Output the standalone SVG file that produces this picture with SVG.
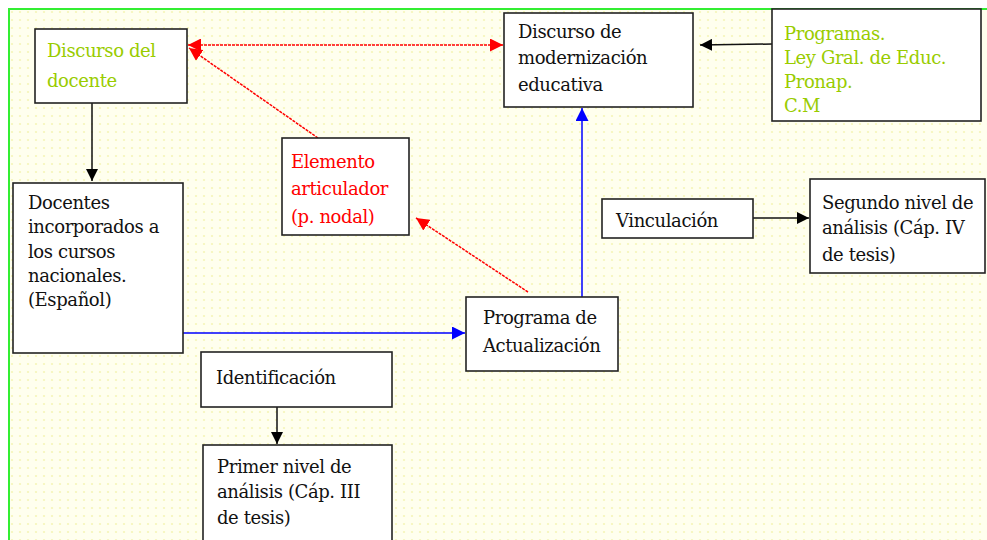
<svg xmlns="http://www.w3.org/2000/svg" width="987" height="540" viewBox="0 0 987 540">
<defs>
<pattern id="dots" width="8" height="8" patternUnits="userSpaceOnUse">
<rect width="8" height="8" fill="#ffffee"/>
<circle cx="4" cy="4" r="1.1" fill="#f6f6b8"/>
</pattern>
<marker id="ak" viewBox="0 0 10 10" refX="10" refY="5" markerWidth="12" markerHeight="12" markerUnits="userSpaceOnUse" orient="auto-start-reverse"><path d="M0,0 L10,5 L0,10 z" fill="#000"/></marker>
<marker id="ar" viewBox="0 0 10 10" refX="10" refY="5" markerWidth="13" markerHeight="13" markerUnits="userSpaceOnUse" orient="auto-start-reverse"><path d="M0,0 L10,5 L0,10 z" fill="#ff0000"/></marker>
<marker id="ab" viewBox="0 0 10 10" refX="10" refY="5" markerWidth="13" markerHeight="13" markerUnits="userSpaceOnUse" orient="auto-start-reverse"><path d="M0,0 L10,5 L0,10 z" fill="#0000ff"/></marker>
</defs>
<style>
.box{fill:#ffffff;stroke:#222;stroke-width:1.6}
.t text{font-family:"DejaVu Serif",serif;font-size:18px;letter-spacing:-0.4px;fill:#111}
.t text.g{fill:#99cc00}
.t text.r{fill:#ff0000}
.ck{stroke:#111;stroke-width:1.5;fill:none;marker-end:url(#ak)}
.cr{stroke:#ff0000;stroke-width:1.5;fill:none;stroke-dasharray:3 1;marker-end:url(#ar)}
.cb{stroke:#0000ff;stroke-width:1.5;fill:none;marker-end:url(#ab)}
</style>
<rect width="987" height="540" fill="#ffffff"/>
<rect x="9" y="9" width="978" height="531" fill="url(#dots)"/>
<path d="M9,540 L9,9 L987,9" fill="none" stroke="#33ee33" stroke-width="2"/>

<g id="connectors">
<path class="ck" d="M92,103 L92,181"/>
<path class="cr" d="M188,45 L503,45" marker-start="url(#ar)"/>
<path class="cr" d="M318,138 L189,48"/>
<path class="cr" d="M528,292 L416,218"/>
<path class="cb" d="M183,333 L465,333"/>
<path class="cb" d="M582,297 L582,108"/>
<path class="ck" d="M772,44 L700,45"/>
<path class="ck" d="M753,218 L809,218"/>
<path class="ck" d="M277,407 L277,444"/>
</g>

<g class="t">
<g id="discurso-docente">
<rect class="box" x="35" y="29" width="152" height="74"/>
<text class="g" x="47" y="57">Discurso del</text>
<text class="g" x="47" y="87">docente</text>
</g>

<g id="discurso-modernizacion">
<rect class="box" x="504" y="13" width="189" height="94"/>
<text x="518" y="38">Discurso de</text>
<text x="518" y="64">modernización</text>
<text x="518" y="91">educativa</text>
</g>

<g id="programas">
<rect class="box" x="772" y="9" width="209" height="112"/>
<text class="g" x="784" y="40">Programas.</text>
<text class="g" x="784" y="64">Ley Gral. de Educ.</text>
<text class="g" x="784" y="88">Pronap.</text>
<text class="g" x="784" y="112">C.M</text>
</g>

<g id="elemento">
<rect class="box" x="282" y="138" width="127" height="97"/>
<text class="r" x="291" y="168">Elemento</text>
<text class="r" x="291" y="195">articulador</text>
<text class="r" x="291" y="223">(p. nodal)</text>
</g>

<g id="docentes">
<rect class="box" x="13" y="183" width="170" height="170"/>
<text x="28" y="209">Docentes</text>
<text x="28" y="233">incorporados a</text>
<text x="28" y="258">los cursos</text>
<text x="28" y="282">nacionales.</text>
<text x="28" y="306">(Español)</text>
</g>

<g id="vinculacion">
<rect class="box" x="602" y="199" width="151" height="39"/>
<text x="616" y="227">Vinculación</text>
</g>

<g id="segundo-nivel">
<rect class="box" x="810" y="179" width="175" height="94"/>
<text x="822" y="209">Segundo nivel de</text>
<text x="822" y="234">análisis (Cáp. IV</text>
<text x="822" y="261">de tesis)</text>
</g>

<g id="programa-actualizacion">
<rect class="box" x="466" y="297" width="152" height="74"/>
<text x="483" y="324">Programa de</text>
<text x="483" y="352">Actualización</text>
</g>

<g id="identificacion">
<rect class="box" x="201" y="352" width="191" height="55"/>
<text x="216" y="384">Identificación</text>
</g>

<g id="primer-nivel">
<rect class="box" x="203" y="445" width="189" height="100"/>
<text x="217" y="473">Primer nivel de</text>
<text x="217" y="498">análisis (Cáp. III</text>
<text x="217" y="524">de tesis)</text>
</g>
</g>
</svg>
